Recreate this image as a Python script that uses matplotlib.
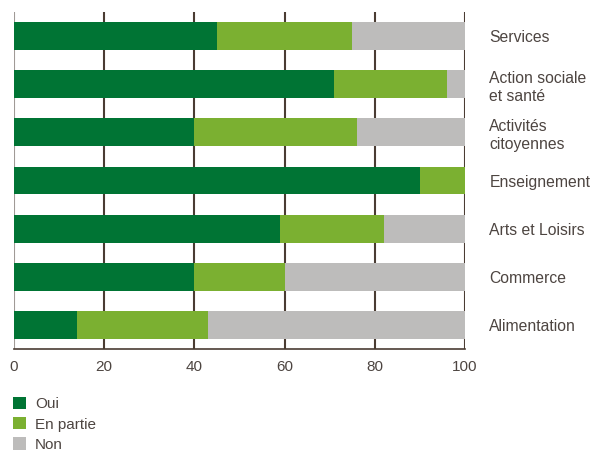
import matplotlib
matplotlib.use("Agg")
import matplotlib.pyplot as plt
from matplotlib.patches import Patch

categories = ["Services", "Action sociale\net santé", "Activités\ncitoyennes",
              "Enseignement", "Arts et Loisirs", "Commerce", "Alimentation"]
oui = [45, 71, 40, 90, 59, 40, 14]
en_partie = [30, 25, 36, 10, 23, 20, 29]
non = [25, 4, 24, 0, 18, 40, 57]
series_names = ["Oui", "En partie", "Non"]
colors = ["#007434", "#7bb031", "#bdbcbb"]
xticks = [0, 20, 40, 60, 80, 100]

plt.rcParams['font.family'] = ['Liberation Sans', 'DejaVu Sans']
txt = "#4d4541"

fig = plt.figure(figsize=(5.93, 4.53), dpi=100)
ax = fig.add_axes([14/593, 1-349/453, (465-14)/593, (349-12)/453])

y = list(range(len(categories)))
left = [0]*len(categories)
for vals, c in zip([oui, en_partie, non], colors):
    ax.barh(y, vals, left=left, height=0.58, color=c, zorder=3, linewidth=0)
    left = [l+v for l, v in zip(left, vals)]

ax.set_ylim(6.5, -0.5)
ax.set_xlim(0, 100)
ax.set_xticks(xticks)
ax.set_xticklabels([str(t) for t in xticks], color=txt, fontsize=11)
ax.tick_params(axis='x', length=0, pad=8)
for t in xticks:
    ax.axvline(t, color="#4a3c33" if t != 0 else "#a09a96", lw=1.5, zorder=1)
for s in ["top", "left", "right"]:
    ax.spines[s].set_visible(False)
ax.spines["bottom"].set_color("#4a3c33")
ax.spines["bottom"].set_linewidth(1.2)

ax.yaxis.tick_right()
ax.set_yticks(y)
ax.set_yticklabels(categories, color=txt, fontsize=11.3, ha='left', linespacing=1.3)
ax.tick_params(axis='y', length=0, pad=17.5)

handles = [Patch(facecolor=c, edgecolor='none') for c in colors]
fig.legend(handles, series_names, loc='upper left', bbox_to_anchor=(14/593 - 0.001, 1-397/453),
           frameon=False, fontsize=11, handlelength=0.85, handleheight=0.85,
           handletextpad=0.55, labelspacing=0.38, borderaxespad=0, borderpad=0,
           labelcolor=txt)

fig.savefig("out.png", dpi=100)
